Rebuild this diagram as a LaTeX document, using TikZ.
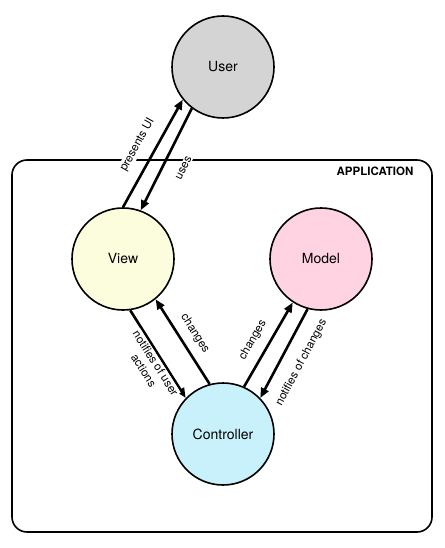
\documentclass[tikz,border=0pt]{standalone}
\usepackage{fontspec}
\setmainfont{TeX Gyre Heros}
\usepackage{tikz}
\usetikzlibrary{arrows.meta}

\definecolor{usergray}{HTML}{D4D4D4}
\definecolor{viewyellow}{HTML}{FBFDDC}
\definecolor{modelpink}{HTML}{FFD3E1}
\definecolor{ctrlcyan}{HTML}{C8F1FC}

\tikzset{
  part/.style={circle,draw,line width=1.6pt,minimum size=102pt,inner sep=0pt,font=\fontsize{14}{16}\selectfont},
  flow/.style={line width=2.6pt,-{Triangle[length=10pt,width=8pt]}},
  lbl/.style={midway,sloped,fill=white,inner sep=1pt,font=\fontsize{11.5}{14}\selectfont}
}

\begin{document}
\begin{tikzpicture}[x=1pt,y=-1pt]
\useasboundingbox (0,0) rectangle (444,548);

\draw[line width=1.6pt,rounded corners=15pt] (12,160) rectangle (432,532);
\node (app) at (375,171) [font=\bfseries\fontsize{11.5}{13}\selectfont] {APPLICATION};

\node (user) at (223,67)[part,fill=usergray] {User};
\node (view) at (123,259)[part,fill=viewyellow] {View};
\node (model) at (321,259)[part,fill=modelpink] {Model};
\node (ctrl) at (223,434)[part,fill=ctrlcyan] {Controller};

\draw[flow] (view.90) to node[lbl,above=10pt] {presents UI} (user.219);
\draw[flow] (user.233) to node[lbl,below=14pt] {uses} (view.70);
\draw[flow] (view.278) to node[lbl,below=0pt,pos=0.56,align=center] {notifies of user\\actions} (ctrl.136);
\draw[flow] (ctrl.105) to node[lbl,above=7pt] {changes} (view.309);
\draw[flow] (ctrl.66) to node[lbl,above=8pt,pos=0.46] {changes} (model.237);
\draw[flow] (model.255) to node[lbl,below=12pt] {notifies of changes} (ctrl.44);

\end{tikzpicture}
\end{document}
